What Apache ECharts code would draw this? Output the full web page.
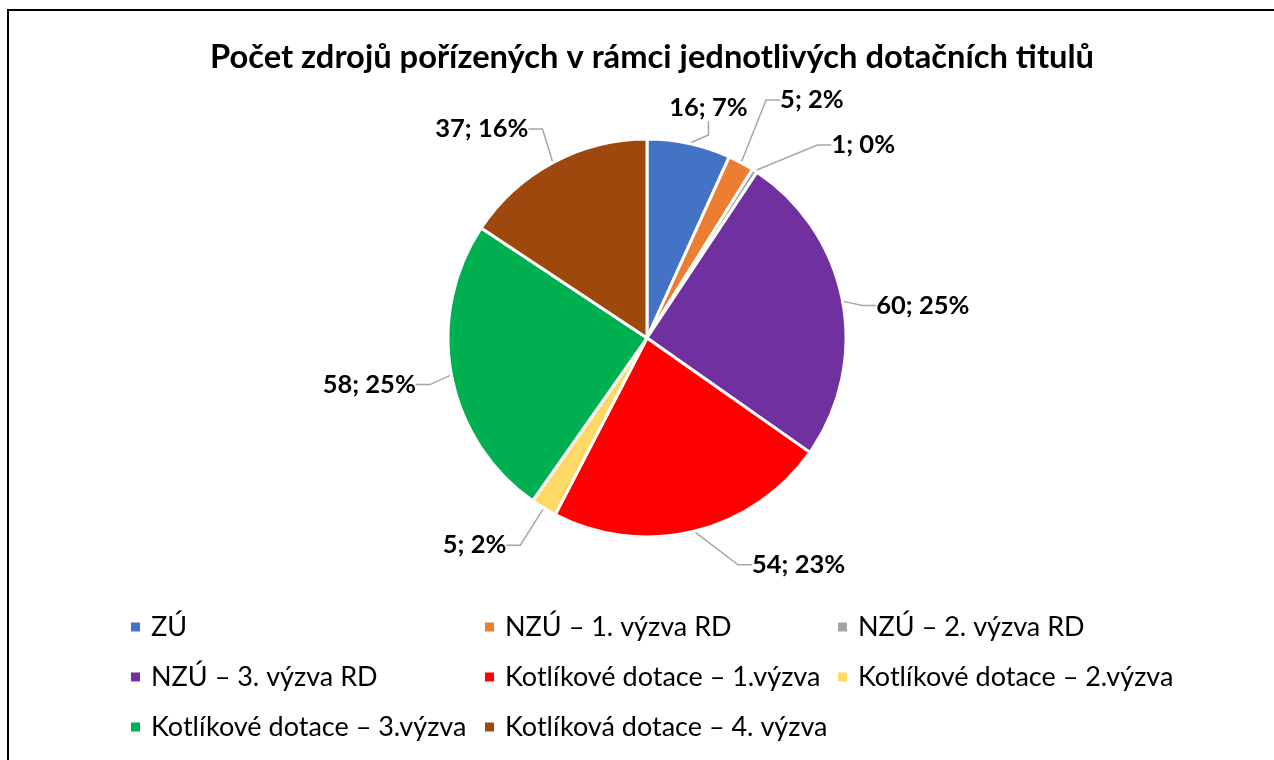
<!DOCTYPE html>
<html>
<head>
<meta charset="utf-8">
<script src="https://cdn.jsdelivr.net/npm/echarts@6/dist/echarts.min.js"></script>
<style>
html,body{margin:0;padding:0;background:#fff;}
#frame{position:absolute;left:7px;top:9px;width:1300px;height:800px;border-left:2px solid #000;border-top:2px solid #000;}
#chart{position:absolute;left:0;top:0;width:1274px;height:760px;}
</style>
</head>
<body>
<div id="frame"></div>
<div id="chart"></div>
<script>
//标题与分类
const titleText = 'Počet zdrojů pořízených v rámci jednotlivých dotačních titulů';
const categories = [
	'ZÚ',
	'NZÚ – 1. výzva RD',
	'NZÚ – 2. výzva RD',
	'NZÚ – 3. výzva RD',
	'Kotlíkové dotace – 1.výzva',
	'Kotlíkové dotace – 2.výzva',
	'Kotlíkové dotace – 3.výzva',
	'Kotlíková dotace – 4. výzva'
];
//各分类的数量
const counts = [16, 5, 1, 60, 54, 5, 58, 37];
const colors = ['#4472C4', '#ED7D31', '#A5A5A5', '#7030A0', '#FF0000', '#FFD966', '#00B050', '#9E480E'];
//图例分三列
const legendCols = [
	[categories[0], categories[3], categories[6]],
	[categories[1], categories[4], categories[7]],
	[categories[2], categories[5]]
];
//标签微调偏移(dx, dy)
const labelShift = [[-43, -16], [2, -52], [18, -35], [0, 8], [34, 14], [-8, 20], [3, 6], [4, -16]];

const fontFam = 'Lato, "Noto Sans", sans-serif';
const total = counts.reduce((a, b) => a + b, 0);

let myChart = echarts.init(document.getElementById('chart'));

const legendLefts = [124, 478, 831];
let legends = legendCols.map(function (col, i) {
	return {
		orient: 'vertical',
		left: legendLefts[i],
		top: 607,
		itemGap: 20,
		itemWidth: 11,
		itemHeight: 11,
		icon: 'rect',
		selectedMode: false,
		data: col,
		textStyle: {fontFamily: fontFam, fontSize: 27, lineHeight: 30, color: '#000', padding: [0, 0, 0, 5]}
	};
});

//按偏移移动标签，引导线随之重算
function shiftLabel(params) {
	const s = labelShift[params.dataIndex];
	const r = params.labelRect;
	let ax = r.x;
	if (params.align === 'right') {
		ax = r.x + r.width;
	} else if (params.align === 'center') {
		ax = r.x + r.width / 2;
	}
	let ay = r.y;
	if (params.verticalAlign === 'middle') {
		ay = r.y + r.height / 2;
	} else if (params.verticalAlign === 'bottom') {
		ay = r.y + r.height;
	}
	return {x: ax + s[0], y: ay + s[1]};
}

let chartOption = {
	color: colors,
	animation: false,
	title: {
		text: titleText,
		left: 647,
		textAlign: 'center',
		top: 36,
		textStyle: {fontFamily: fontFam, fontSize: 32.7, fontWeight: 'bold', color: '#000'}
	},
	legend: legends,
	series: [{
		type: 'pie',
		center: [647, 338],
		radius: 199,
		startAngle: 90,
		clockwise: true,
		itemStyle: {borderColor: '#fff', borderWidth: 3},
		label: {
			show: true,
			position: 'outside',
			fontFamily: fontFam,
			fontSize: 25.5,
			fontWeight: 'bold',
			color: '#000',
			formatter: function (p) {
				return p.value + '; ' + Math.round(p.value / total * 100) + '%';
			}
		},
		labelLine: {
			show: true,
			length: 20,
			length2: 14,
			lineStyle: {color: '#A6A6A6', width: 1.5}
		},
		labelLayout: shiftLabel,
		data: categories.map(function (name, i) {
			return {name: name, value: counts[i]};
		})
	}]
};
myChart.setOption(chartOption);
</script>
</body>
</html>
